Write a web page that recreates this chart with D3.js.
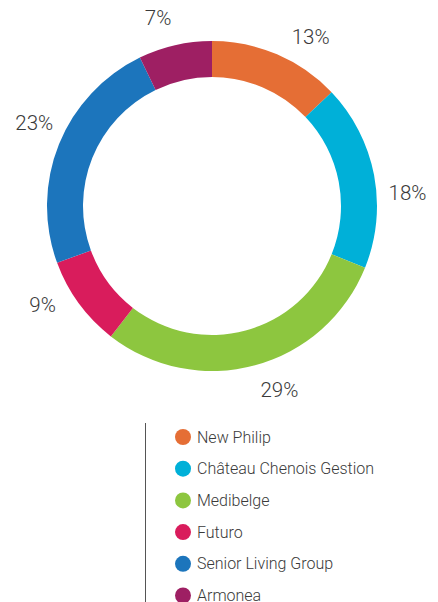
<!DOCTYPE html>
<html>
<head>
<meta charset="utf-8">
<script src="https://cdn.jsdelivr.net/npm/d3@7"></script>
<style>
  html, body { margin: 0; padding: 0; background: #fff; }
  body { width: 438px; height: 602px; overflow: hidden; }
  .pct { font-family: Roboto, sans-serif; font-weight: 300; font-size: 20.5px; fill: #3a3a3a; }
  .legend-text { font-family: Roboto, sans-serif; font-weight: 300; font-size: 16px; fill: #3a3a3a; }
</style>
</head>
<body>
<div class="chart"></div>
<script>
// data (share of total, %)
var companies = ["New Philip", "Château Chenois Gestion", "Medibelge", "Futuro", "Senior Living Group", "Armonea"];
var shares = [12.9, 18.2, 29.4, 8.9, 23.4, 7.2];
var pctLabels = ["13%", "18%", "29%", "9%", "23%", "7%"];
var colors = ["#e56e35", "#00b0d8", "#8dc63f", "#d91c5c", "#1c75bc", "#9e1f63"];

var svgWidth = 438;
var svgHeight = 602;

var cx = 212, cy = 206;
var outerR = 165, innerR = 129;
var labelR = 196;
// small angle nudges (degrees) so labels sit where the original put them
var labelNudge = [7, 7, -5, 6, 3, -3];

var svg = d3.select(".chart")
  .append("svg")
  .attr("width", svgWidth)
  .attr("height", svgHeight);

var donut = svg.append("g")
  .attr("transform", "translate(" + cx + "," + cy + ")");

var pie = d3.pie().sort(null).value(function(d) { return d; });
var arcs = pie(shares);

var arc = d3.arc().innerRadius(innerR).outerRadius(outerR);

donut.selectAll("path")
  .data(arcs)
  .enter()
  .append("path")
  .attr("d", arc)
  .attr("fill", function(d, i) { return colors[i]; });

function labelAngle(d, i) {
  return (d.startAngle + d.endAngle) / 2 + labelNudge[i] * Math.PI / 180;
}

donut.selectAll(".pct")
  .data(arcs)
  .enter()
  .append("text")
  .attr("class", "pct")
  .attr("text-anchor", "middle")
  .attr("dy", "0.35em")
  .attr("x", function(d, i) { return labelR * Math.sin(labelAngle(d, i)); })
  .attr("y", function(d, i) { return -labelR * Math.cos(labelAngle(d, i)); })
  .text(function(d, i) { return pctLabels[i]; });

// legend
var legendTop = 437, rowH = 31.7;
var legend = svg.append("g");

legend.append("line")
  .attr("x1", 145.5).attr("x2", 145.5)
  .attr("y1", 423).attr("y2", svgHeight)
  .attr("stroke", "#555")
  .attr("stroke-width", 1);

var rows = legend.selectAll(".row")
  .data(companies)
  .enter()
  .append("g")
  .attr("class", "row")
  .attr("transform", function(d, i) { return "translate(183," + (legendTop + i * rowH) + ")"; });

rows.append("circle")
  .attr("r", 8)
  .attr("fill", function(d, i) { return colors[i]; });

rows.append("text")
  .attr("class", "legend-text")
  .attr("x", 14)
  .attr("dy", "0.35em")
  .text(function(d) { return d; });
</script>
</body>
</html>
